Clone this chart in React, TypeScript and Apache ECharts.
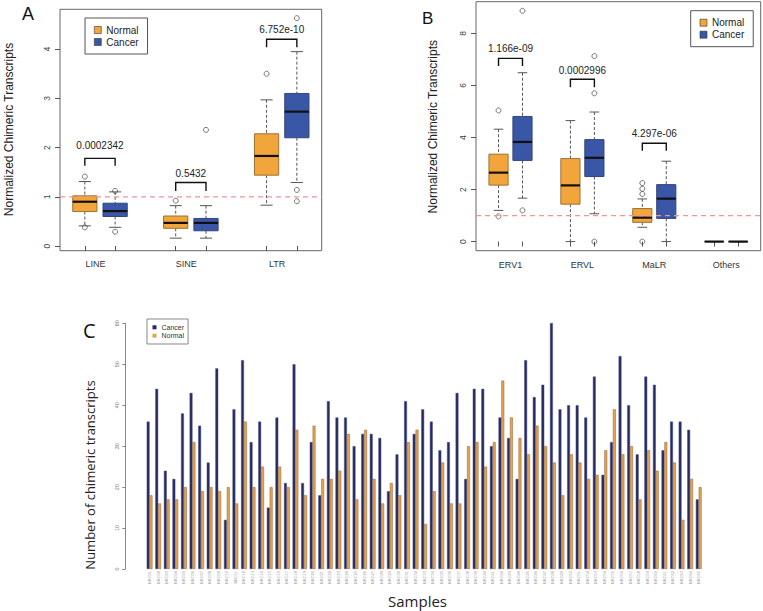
import React, { useEffect, useRef } from "react";
import * as echarts from "echarts";

// ---------- Panel A data ----------
const aCategories = ["LINE", "SINE", "LTR"];
// [lower whisker, Q1, median, Q3, upper whisker]
const aNormalStats = [
  [0.41, 0.7, 0.9, 1.02, 1.31],
  [0.16, 0.36, 0.47, 0.61, 0.82],
  [0.83, 1.44, 1.83, 2.28, 2.97],
];
const aCancerStats = [
  [0.38, 0.6, 0.71, 0.87, 1.1],
  [0.16, 0.31, 0.47, 0.56, 0.82],
  [1.29, 2.2, 2.73, 3.1, 3.95],
];
const aNormalOutliers = [[1.41, 0.38], [0.92], [3.5]];
const aCancerOutliers = [[1.12, 0.29], [2.36], [4.63, 1.14, 0.91]];
const aPValues = ["0.0002342", "0.5432", "6.752e-10"];
const aBracketLow = [1.63, 1.12, 4.04];
const aBracketHigh = [1.78, 1.29, 4.2];
const aPValueY = [2.05, 1.48, 4.39];
const aYTicks = [0, 1, 2, 3, 4];

// ---------- Panel B data ----------
const bCategories = ["ERV1", "ERVL", "MaLR", "Others"];
const bNormalStats = [
  [1.2, 2.17, 2.65, 3.36, 4.32],
  [0, 1.44, 2.16, 3.19, 4.65],
  [0.55, 0.74, 0.92, 1.27, 1.64],
  [0, 0, 0, 0, 0],
];
const bCancerStats = [
  [1.67, 3.12, 3.83, 4.81, 6.49],
  [1.07, 2.5, 3.22, 3.92, 4.98],
  [0, 0.89, 1.65, 2.19, 3.09],
  [0, 0, 0, 0, 0],
];
const bNormalOutliers = [[5.04, 0.97], [], [2.25, 2.03, 1.83, 0], []];
const bCancerOutliers = [[8.87, 1.2], [7.13, 5.7, 0], [], []];
const bPValues = ["1.166e-09", "0.0002996", "4.297e-06"];
const bBracketLow = [6.75, 5.93, 3.49];
const bBracketHigh = [7.04, 6.24, 3.78];
const bPValueY = [7.42, 6.59, 4.17];
const bYTicks = [0, 2, 4, 6, 8];

// reference level (dashed red line)
const refLevel = 1;

// ---------- Panel C data ----------
const cSamples = [
  "BRC01", "BRC02", "BRC03", "BRC04", "BRC05", "BRC06", "BRC07", "BRC08", "BRC09", "BRC10",
  "BRC11", "BRC12", "BRC13", "BRC14", "BRC15", "BRC16", "BRC17", "BRC18", "BRC19", "BRC20",
  "BRC21", "BRC22", "BRC23", "BRC24", "BRC25", "BRC26", "BRC27", "BRC28", "BRC29", "BRC30",
  "BRC31", "BRC32", "BRC33", "BRC34", "BRC35", "BRC36", "BRC37", "BRC38", "BRC39", "BRC40",
  "BRC41", "BRC42", "BRC43", "BRC44", "BRC45", "BRC46", "BRC47", "BRC48", "BRC49", "BRC50",
  "BRC51", "BRC52", "BRC53", "BRC54", "BRC55", "BRC56", "BRC57", "BRC58", "BRC59", "BRC60",
  "BRC61", "BRC62", "BRC63", "BRC64", "BRC65",
];
const cCancer = [
  36, 44, 24, 22, 38, 43, 35, 26, 49, 12,
  39, 51, 31, 36, 15, 37, 21, 50, 21, 31,
  18, 41, 37, 37, 30, 33, 33, 32, 19, 28,
  41, 33, 39, 36, 29, 31, 43, 22, 44, 44,
  30, 37, 32, 22, 51, 42, 45, 61, 39, 40,
  40, 37, 47, 23, 31, 52, 40, 28, 47, 45,
  29, 36, 36, 34, 17,
];
const cNormal = [
  18, 16, 17, 17, 20, 31, 19, 20, 19, 20,
  16, 36, 20, 25, 20, 25, 20, 34, 18, 35,
  22, 22, 24, 33, 17, 34, 22, 16, 21, 18,
  31, 34, 11, 19, 26, 16, 16, 30, 31, 25,
  31, 46, 37, 32, 28, 35, 30, 26, 18, 28,
  26, 22, 23, 29, 39, 28, 30, 17, 29, 24,
  31, 26, 12, 22, 20,
];

const ORANGE = "#F2A53A";
const BLUE = "#3A56A6";
const C_NAVY = "#262A60";
const C_ORANGE = "#E7A24C";
const REF_RED = "#F29494";
const ARIAL = "Liberation Sans, Arial, sans-serif";
const CALIBRI = "Open Sans, sans-serif";

const BOX_W = 0.8;
const CAP_W = 0.4;

function boxRenderer(fill: string, stroke: string) {
  return (params: any, api: any) => {
    const pos = api.value(0);
    const pLo = api.coord([pos, api.value(1)]);
    const pQ1 = api.coord([pos, api.value(2)]);
    const pMed = api.coord([pos, api.value(3)]);
    const pQ3 = api.coord([pos, api.value(4)]);
    const pHi = api.coord([pos, api.value(5)]);
    const w = api.size([BOX_W, 0])[0];
    const cap = api.size([CAP_W, 0])[0];
    const x = pLo[0];
    const wh = { stroke: "#555", lineWidth: 1, lineDash: [3, 2] };
    const cp = { stroke: "#555", lineWidth: 1 };
    return {
      type: "group",
      children: [
        { type: "line", shape: { x1: x, y1: pHi[1], x2: x, y2: pQ3[1] }, style: wh },
        { type: "line", shape: { x1: x, y1: pQ1[1], x2: x, y2: pLo[1] }, style: wh },
        { type: "line", shape: { x1: x - cap / 2, y1: pHi[1], x2: x + cap / 2, y2: pHi[1] }, style: cp },
        { type: "line", shape: { x1: x - cap / 2, y1: pLo[1], x2: x + cap / 2, y2: pLo[1] }, style: cp },
        {
          type: "rect",
          shape: { x: x - w / 2, y: pQ3[1], width: w, height: pQ1[1] - pQ3[1] },
          style: { fill, stroke, lineWidth: 1 },
        },
        {
          type: "line",
          shape: { x1: x - w / 2, y1: pMed[1], x2: x + w / 2, y2: pMed[1] },
          style: { stroke: "#111", lineWidth: 2.2 },
        },
      ],
    };
  };
}

function bracketRenderer(labels: string[]) {
  return (params: any, api: any) => {
    const x1 = api.value(0);
    const x2 = api.value(1);
    const lo = api.value(2);
    const hi = api.value(3);
    const ty = api.value(4);
    const a = api.coord([x1, lo]);
    const b = api.coord([x1, hi]);
    const c = api.coord([x2, hi]);
    const d = api.coord([x2, lo]);
    const t = api.coord([(x1 + x2) / 2, ty]);
    return {
      type: "group",
      children: [
        {
          type: "polyline",
          shape: { points: [a, b, c, d] },
          style: { stroke: "#111", lineWidth: 1.4, fill: "none" },
        },
        {
          type: "text",
          x: t[0],
          y: t[1],
          style: {
            text: labels[params.dataIndex],
            fontSize: 10,
            fontFamily: ARIAL,
            fill: "#222",
            align: "center",
            verticalAlign: "middle",
          },
        },
      ],
    };
  };
}

// horizontal reference line spanning the whole plot frame
function refLineRenderer(params: any, api: any) {
  const y = api.coord([0, api.value(0)])[1];
  const cs = params.coordSys;
  return {
    type: "line",
    shape: { x1: cs.x, y1: y, x2: cs.x + cs.width, y2: y },
    style: { stroke: REF_RED, lineWidth: 1.2, lineDash: [5, 4] },
    z2: 100,
  };
}

function statsData(stats: number[][], offset: number, step: number) {
  return stats.map((s, i) => [step * i + offset, ...s]);
}
function outlierData(out: number[][], offset: number, step: number) {
  return out.flatMap((arr, i) => arr.map((v) => [step * i + offset, v]));
}
function bracketData(lo: number[], hi: number[], ty: number[], step: number) {
  return lo.map((l, i) => [step * i + 1, step * i + 2, l, hi[i], ty[i]]);
}

const outlierStyle = {
  color: "rgba(0,0,0,0)",
  borderColor: "#444",
  borderWidth: 0.9,
};

const aLabelPos = [1.35, 4.35, 7.35];
const bLabelPos = [1.5, 4.5, 7.5, 10.5];

function labelFormatter(pos: number[], names: string[]) {
  return (v: number) => {
    const i = pos.findIndex((p) => Math.abs(p - v) < 1e-6);
    return i >= 0 ? names[i] : "";
  };
}

export default function App() {
  const ref = useRef<HTMLDivElement>(null);
  useEffect(() => {
    if (!ref.current) return;
    const chart = echarts.init(ref.current, undefined, { renderer: "svg" });
    const legendBase = {
      orient: "vertical",
      icon: "rect",
      selectedMode: false,
      borderColor: "#555",
      borderWidth: 1,
      itemWidth: 7,
      itemHeight: 7,
      itemGap: 2,
      textStyle: { fontSize: 10, color: "#222", fontFamily: ARIAL, lineHeight: 10 },
    };
    const option: any = {
      animation: false,
      backgroundColor: "#fff",
      grid: [
        { left: 60, top: 9.3, width: 261.7, height: 241.4, show: true, borderColor: "#666", borderWidth: 1, backgroundColor: "transparent", outerBoundsMode: "none" },
        { left: 476, top: 1.7, width: 284.7, height: 249, show: true, borderColor: "#666", borderWidth: 1, backgroundColor: "transparent", outerBoundsMode: "none" },
        { left: 145.3, top: 323.3, width: 557.7, height: 245.7, show: false, outerBoundsMode: "none" },
      ],
      xAxis: [
        {
          gridIndex: 0, type: "value", min: 0.18, max: 8.82,
          axisLine: { show: false }, splitLine: { show: false },
          axisTick: { show: true, length: 5, customValues: [1, 2, 4, 5, 7, 8], lineStyle: { color: "#555" } },
          axisLabel: { customValues: aLabelPos, formatter: labelFormatter(aLabelPos, aCategories), fontSize: 9, color: "#333", fontFamily: ARIAL, margin: 9 },
        },
        {
          gridIndex: 1, type: "value", min: 0.06, max: 11.94,
          axisLine: { show: false }, splitLine: { show: false },
          axisTick: { show: true, length: 5, customValues: [1, 2, 4, 5, 7, 8, 10, 11], lineStyle: { color: "#555" } },
          axisLabel: { customValues: bLabelPos, formatter: labelFormatter(bLabelPos, bCategories), fontSize: 9, color: "#333", fontFamily: ARIAL, margin: 10 },
        },
        {
          gridIndex: 2, type: "category", data: cSamples,
          axisLine: { show: false }, axisTick: { show: false },
          axisLabel: { interval: 0, rotate: 90, fontSize: 4, color: "#999", margin: 2, fontFamily: ARIAL },
        },
      ],
      yAxis: [
        {
          gridIndex: 0, type: "value", min: -0.095, max: 4.81,
          axisLine: { show: false }, splitLine: { show: false },
          axisTick: { show: true, length: 5, customValues: aYTicks, lineStyle: { color: "#555" } },
          axisLabel: { customValues: aYTicks, rotate: 90, fontSize: 8.5, color: "#444", fontFamily: ARIAL, margin: 9 },
        },
        {
          gridIndex: 1, type: "value", min: -0.35, max: 9.22,
          axisLine: { show: false }, splitLine: { show: false },
          axisTick: { show: true, length: 5, customValues: bYTicks, lineStyle: { color: "#555" } },
          axisLabel: { customValues: bYTicks, rotate: 90, fontSize: 8.5, color: "#444", fontFamily: ARIAL, margin: 9 },
        },
        {
          gridIndex: 2, type: "value", min: 0, max: 60, interval: 10, offset: 20,
          axisLine: { show: true, lineStyle: { color: "#888" } }, splitLine: { show: false },
          axisTick: { show: true, length: 3, lineStyle: { color: "#888" } },
          axisLabel: { rotate: 90, fontSize: 5.5, color: "#777", fontFamily: ARIAL, margin: 5 },
        },
      ],
      legend: [
        {
          ...legendBase, left: 85, top: 18, padding: [7, 9, 7, 9],
          data: [
            { name: "Normal", itemStyle: { color: ORANGE, borderColor: "#333", borderWidth: 0.6 } },
            { name: "Cancer", itemStyle: { color: BLUE, borderColor: "#333", borderWidth: 0.6 } },
          ],
        },
        {
          ...legendBase, left: 690.7, top: 10.7, padding: [7, 9, 7, 9],
          data: [
            { name: "Normal", itemStyle: { color: ORANGE, borderColor: "#333", borderWidth: 0.6 } },
            { name: "Cancer", itemStyle: { color: BLUE, borderColor: "#333", borderWidth: 0.6 } },
          ],
        },
        {
          ...legendBase, left: 147, top: 319, padding: [4.8, 4, 4.8, 5.5],
          borderColor: "#888", itemWidth: 4, itemHeight: 4, itemGap: 1.4,
          textStyle: { fontSize: 7, color: "#333", fontFamily: ARIAL, lineHeight: 7 },
          data: [
            { name: "Cancer", itemStyle: { color: C_NAVY, borderWidth: 0 } },
            { name: "Normal", itemStyle: { color: C_ORANGE, borderWidth: 0 } },
          ],
        },
      ],
      series: [
        // Panel A
        {
          type: "custom", name: "Normal", xAxisIndex: 0, yAxisIndex: 0,
          encode: { x: 0, y: [1, 2, 3, 4, 5] }, itemStyle: { color: ORANGE },
          data: statsData(aNormalStats, 1, 3), renderItem: boxRenderer(ORANGE, "#9C7234"),
        },
        {
          type: "custom", name: "Cancer", xAxisIndex: 0, yAxisIndex: 0,
          encode: { x: 0, y: [1, 2, 3, 4, 5] }, itemStyle: { color: BLUE },
          data: statsData(aCancerStats, 2, 3), renderItem: boxRenderer(BLUE, "#34457A"),
        },
        {
          type: "scatter", name: "A outliers", xAxisIndex: 0, yAxisIndex: 0,
          symbol: "circle", symbolSize: 5, itemStyle: outlierStyle, silent: true,
          data: [...outlierData(aNormalOutliers, 1, 3), ...outlierData(aCancerOutliers, 2, 3)],
          z: 5,
        },
        {
          type: "custom", name: "A reference", xAxisIndex: 0, yAxisIndex: 0,
          encode: { y: 0 }, silent: true, z: 8,
          data: [[refLevel]], renderItem: refLineRenderer,
        },
        {
          type: "custom", name: "A p-values", xAxisIndex: 0, yAxisIndex: 0,
          encode: { x: [0, 1], y: [2, 3, 4] },
          data: bracketData(aBracketLow, aBracketHigh, aPValueY, 3), renderItem: bracketRenderer(aPValues),
        },
        // Panel B
        {
          type: "custom", name: "Normal", xAxisIndex: 1, yAxisIndex: 1,
          encode: { x: 0, y: [1, 2, 3, 4, 5] }, itemStyle: { color: ORANGE },
          data: statsData(bNormalStats, 1, 3), renderItem: boxRenderer(ORANGE, "#9C7234"),
        },
        {
          type: "custom", name: "Cancer", xAxisIndex: 1, yAxisIndex: 1,
          encode: { x: 0, y: [1, 2, 3, 4, 5] }, itemStyle: { color: BLUE },
          data: statsData(bCancerStats, 2, 3), renderItem: boxRenderer(BLUE, "#34457A"),
        },
        {
          type: "scatter", name: "B outliers", xAxisIndex: 1, yAxisIndex: 1,
          symbol: "circle", symbolSize: 5, itemStyle: outlierStyle, silent: true,
          data: [...outlierData(bNormalOutliers, 1, 3), ...outlierData(bCancerOutliers, 2, 3)],
          z: 5,
        },
        {
          type: "custom", name: "B reference", xAxisIndex: 1, yAxisIndex: 1,
          encode: { y: 0 }, silent: true, z: 8,
          data: [[refLevel]], renderItem: refLineRenderer,
        },
        {
          type: "custom", name: "B p-values", xAxisIndex: 1, yAxisIndex: 1,
          encode: { x: [0, 1], y: [2, 3, 4] },
          data: bracketData(bBracketLow, bBracketHigh, bPValueY, 3), renderItem: bracketRenderer(bPValues),
        },
        // Panel C
        {
          type: "bar", name: "Cancer", xAxisIndex: 2, yAxisIndex: 2, data: cCancer,
          barGap: "0%", barCategoryGap: "33%",
          itemStyle: { color: C_NAVY, borderColor: "#4A5088", borderWidth: 0.5 },
        },
        {
          type: "bar", name: "Normal", xAxisIndex: 2, yAxisIndex: 2, data: cNormal,
          barGap: "0%", barCategoryGap: "33%",
          itemStyle: { color: C_ORANGE, borderColor: "#8E6332", borderWidth: 0.5 },
        },
      ],
      graphic: [
        { type: "text", x: 22, y: 14, style: { text: "A", fontSize: 18, fontFamily: ARIAL, fill: "#111", align: "left", verticalAlign: "middle" } },
        { type: "text", x: 422, y: 18, style: { text: "B", fontSize: 17, fontFamily: ARIAL, fill: "#111", align: "left", verticalAlign: "middle" } },
        { type: "text", x: 83, y: 330, style: { text: "C", fontSize: 20, fontFamily: CALIBRI, fill: "#111", align: "left", verticalAlign: "middle" } },
        { type: "text", x: 9, y: 129.5, rotation: Math.PI / 2, style: { text: "Normalized Chimeric Transcripts", fontSize: 12, fontFamily: ARIAL, fill: "#222", align: "center", verticalAlign: "middle" } },
        { type: "text", x: 433, y: 126.7, rotation: Math.PI / 2, style: { text: "Normalized Chimeric Transcripts", fontSize: 12, fontFamily: ARIAL, fill: "#222", align: "center", verticalAlign: "middle" } },
        { type: "text", x: 90, y: 475, rotation: Math.PI / 2, style: { text: "Number of chimeric transcripts", fontSize: 13, fontFamily: CALIBRI, fill: "#222", align: "center", verticalAlign: "middle" } },
        { type: "text", x: 417.5, y: 601, style: { text: "Samples", fontSize: 15, fontFamily: CALIBRI, fill: "#222", align: "center", verticalAlign: "middle" } },
      ],
    };
    chart.setOption(option);
    return () => chart.dispose();
  }, []);
  return (
    <div
      ref={ref}
      style={{ position: "fixed", left: 0, top: 0, width: 763, height: 611, background: "#fff" }}
    />
  );
}
